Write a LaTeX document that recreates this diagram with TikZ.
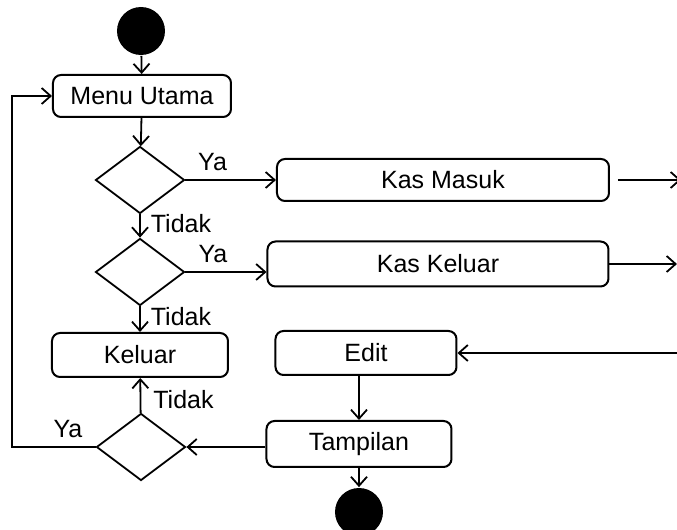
\documentclass[tikz,border=0pt]{standalone}
\usepackage{fontspec}
\setmainfont{Liberation Sans}
\usetikzlibrary{shapes.geometric,arrows.meta,positioning}
\begin{document}
\begin{tikzpicture}[x=0.5pt,y=-0.5pt,line width=0.9pt,font=\fontsize{12.5}{15}\selectfont,
    act/.style={draw,rounded corners=4pt,line width=1pt,inner sep=0pt},
    dec/.style={draw,diamond,minimum width=44.5pt,minimum height=33.5pt,inner sep=0pt},
    dot/.style={circle,fill,minimum size=24pt,inner sep=0pt},
    lbl/.style={inner sep=0pt},
    >={Straight Barb[length=4.5pt,width=8pt]}]
                \clip (0,0) rectangle (677,530);
                \node[dot](start) at (141,31){};
                \node[act,minimum width=89pt,minimum height=21pt](menu) at (142,96){Menu Utama};
                \node[dec](d1) at (140,180){};
                \node[act,minimum width=166pt,minimum height=21pt](masuk) at (443,180){Kas Masuk};
                \node[dec](d2) at (140,272){};
                \node[act,minimum width=170.5pt,minimum height=22.5pt](kasklr) at (438,264){Kas Keluar};
                \node[act,minimum width=88pt,minimum height=22pt](keluar) at (140,355){Keluar};
                \node[act,minimum width=90.5pt,minimum height=22pt](edit) at (366,353){Edit};
                \node[act,minimum width=92.5pt,minimum height=23pt](tampil) at (359,444){Tampilan};
                \node[dec](d3) at (141,447){};
                \node[dot](end) at (359,512){};
                \coordinate(rm) at (681,180);
                \coordinate(rk) at (677,264);
                \coordinate(re) at (678,353);
                \coordinate(lp) at (12,447);
                \draw[->](start) -- (menu);
                \draw[->](menu) -- (d1);
                \draw[->](d1) -- node[lbl,above=4pt,pos=0.3]{Ya} (masuk);
                \draw[->](d1) -- node[lbl,right=5pt,pos=0.4]{Tidak} (d2);
                \draw[->](d2.east) -- node[lbl,above=4pt,pos=0.34]{Ya} (d2.east -| kasklr.west);
                \draw[->](d2) -- node[lbl,right=5pt,pos=0.4]{Tidak} (keluar);
                \draw[->,shorten <=4pt](masuk.east) -- (rm);
                \draw[->](kasklr.east) -- (rk);
                \draw[->](re) -- (edit.east);
                \draw[->](edit.south -| tampil.north) -- (tampil);
                \draw[->](d3 -| tampil.west) -- (d3.east);
                \draw[->](tampil) -- (end);
                \draw[->](d3) -- node[lbl,right=6pt,pos=0.39]{Tidak} (keluar);
                \draw[->](d3.west) -- node[lbl,above=4pt,pos=0.33]{Ya} (lp) |- (menu.west);
            \end{tikzpicture}
\end{document}
